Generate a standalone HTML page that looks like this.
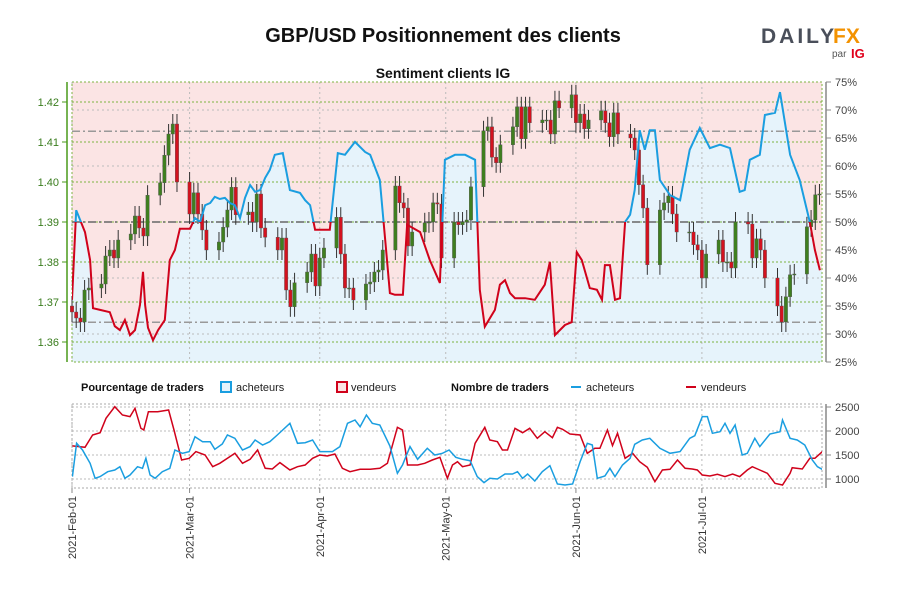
<!DOCTYPE html>
<html><head><meta charset="utf-8"><style>
body{margin:0;background:#fff;font-family:"Liberation Sans",sans-serif;}
svg text{font-family:"Liberation Sans",sans-serif;}
</style></head><body>
<svg id="c" width="900" height="600" xmlns="http://www.w3.org/2000/svg">
<text x="443" y="42" text-anchor="middle" font-size="20" font-weight="bold" fill="#111">GBP/USD Positionnement des clients</text>
<g>
<text x="761" y="43" font-size="21" font-weight="bold" fill="#4a4f5a" letter-spacing="3">DAILY</text>
<text x="833" y="43" font-size="21" font-weight="bold" fill="#f39200">FX</text>
<text x="832" y="57" font-size="10" fill="#555">par</text>
<text x="851" y="58" font-size="13" font-weight="bold" fill="#e0001b">IG</text>
</g>
<text x="443" y="78" text-anchor="middle" font-size="14" font-weight="bold" fill="#111">Sentiment clients IG</text>
<g id="main"></g>
<g id="legend">
<text x="81" y="391" font-size="11" font-weight="bold" fill="#111">Pourcentage de traders</text>
<rect x="221" y="382" width="10" height="10" fill="#e6f3fb" stroke="#1a9ee0" stroke-width="2"/>
<text x="236" y="391" font-size="11" fill="#222">acheteurs</text>
<rect x="337" y="382" width="10" height="10" fill="#fbe3e3" stroke="#d0021b" stroke-width="2"/>
<text x="351" y="391" font-size="11" fill="#222">vendeurs</text>
<text x="451" y="391" font-size="11" font-weight="bold" fill="#111">Nombre de traders</text>
<line x1="571" y1="387" x2="581" y2="387" stroke="#1a9ee0" stroke-width="2"/>
<text x="586" y="391" font-size="11" fill="#222">acheteurs</text>
<line x1="686" y1="387" x2="696" y2="387" stroke="#d0021b" stroke-width="2"/>
<text x="701" y="391" font-size="11" fill="#222">vendeurs</text>
</g>
<g id="bottom"></g>
</svg>
<script>
// ---------- data ----------
const priceTicks=[1.36,1.37,1.38,1.39,1.40,1.41,1.42];
const pctTicks=[25,30,35,40,45,50,55,60,65,70,75];
const countTicks=[1000,1500,2000,2500];
const monthLabels=["2021-Feb-01","2021-Mar-01","2021-Apr-01","2021-May-01","2021-Jun-01","2021-Jul-01"];
const monthDays=[0,28,59,89,120,150];
const refPcts=[66.2,50,32.1];
// daily closes (weekdays, starting Mon 2021-02-01)
const closes=[1.3675,1.366,1.365,1.373,1.3735, 1.3745,1.3815,1.383,1.381,1.3855, 1.387,1.3915,1.3885,1.3865,1.3967,
1.3998,1.4067,1.412,1.4145,1.400, 1.392,1.3973,1.392,1.388,1.383, 1.385,1.3887,1.393,1.3987,1.3918,
1.3925,1.39,1.397,1.3885,1.3862, 1.383,1.386,1.373,1.3688,1.3748, 1.3775,1.382,1.374,1.381,1.3835,
1.3912,1.382,1.3735,1.3735,1.3705, 1.3745,1.375,1.3775,1.378,1.383, 1.399,1.3948,1.3935,1.384,1.3875,
1.3898,1.39,1.3948,1.3945,1.381, 1.39,1.3893,1.39,1.3905,1.3988, 1.4128,1.4138,1.4062,1.4048,1.4093,
1.4138,1.4188,1.4108,1.4188,1.4148, 1.4155,1.4155,1.412,1.4203,1.4185, 1.4218,1.4148,1.417,1.4133,1.4155,
1.4178,1.4148,1.4113,1.4173,1.412, 1.411,1.408,1.3993,1.3935,1.3793, 1.393,1.3948,1.3965,1.392,1.3875,
1.3875,1.3843,1.383,1.376,1.382, 1.3855,1.38,1.38,1.3785,1.39, 1.3895,1.381,1.3858,1.383,1.376,
1.369,1.365,1.3713,1.3768,1.377, 1.3888,1.3905,1.3968,1.397];
const firstOpen=1.369;
// buyer percentage series
const pctDays=[0,1,3.1,4.3,5,6.7,9,10.2,11.4,12.6,13.8,15,16.2,16.9,17.4,18.1,19.3,20.5,22.1,23.3,24.5,25.7,28.1,29.3,30.5,31.7,32.9,34,35.2,36.4,37.6,38.8,40,41.2,42.4,43.6,44.8,46,47.1,48.3,50.2,51.9,54.3,55.5,56.7,57.9,59,61.4,63.3,65,67.4,69.8,71,73.3,74.8,75.7,76.9,78.8,79.8,82.9,85.2,87.6,88.8,91.2,93.6,96,97.1,98.3,100.7,101.9,103.1,104.3,105.5,107.9,110.2,112.6,113.8,115,117.4,119,120.2,121.4,123.3,125,126.2,126.9,128.1,129.3,130.5,131.7,132.9,134,135.2,136.4,137.6,138.8,140,142.4,144.8,147.1,149.5,151.9,154.3,156.7,159,160.2,161.4,163.8,165,167.4,168.6,171,173.3,175.7,176.9,178.1];
const pctVals=[36.1,52.1,48.2,43.2,34.6,34.3,33.9,31.4,30.7,32.5,29.8,30.7,35.2,41.1,35.2,31.1,28.9,30.7,32.5,43.2,45,48.8,48.8,50.7,50,53,53.4,54.5,54.1,54.3,53.4,53,50.7,54.3,56.6,55.4,55.7,57.9,59.3,62,62.3,55.7,55.2,53.9,53,48.6,48.6,48.6,62.3,62,64.3,62.5,62,57.5,45,37.3,37,37,49.5,48.2,43.2,39.1,61.1,62,62,61.1,37.9,31.3,34.3,38.8,39.6,37.3,36.4,36.4,36.1,38.8,42.9,29.8,31.6,32.1,44.6,43.2,38.2,37.9,36.1,42.3,42.3,36.1,36.4,50,51.3,55.7,66.4,62.9,66.4,66.4,57.5,54.8,53.9,62.9,66.8,63.2,63.8,63.2,55.4,55.7,61.1,62,69.1,69.5,73.2,62,57.5,50,45,41.4];
// trader counts
const sellDays=[0.1,3.1,4.9,6.7,8.1,10.2,12,13.8,15,16.4,17.1,18.2,20.4,23,24.3,26.1,27.9,29.5,31.7,33.5,35.2,37.6,38.8,40.6,42.4,44.2,46,47.7,49.5,51.9,53.7,55.5,57.3,59,60.8,62.6,64.4,66.2,68.6,71,73.3,75.1,77.5,78.7,79.9,82.3,84,85.8,87.6,89.4,90.6,91.8,93,94.8,96,98.3,99.5,101.3,102.5,103.7,105.5,107.3,109,110.8,112.6,114.4,115.6,116.8,118.6,121,122.7,124.5,125.7,127.5,128.7,129.9,131.7,133.5,135.2,137,138.8,140.6,142.4,144.2,146,147.7,148.9,150.1,151.9,153.7,155.5,157.3,159,160.8,162,163.8,165.6,167.4,169.2,171,171.5,173.9,175.7,176.9,178.7];
const sellVals=[1690,1660,1917,1965,2264,2507,2334,2299,2472,2056,2021,2403,2403,2438,2021,1396,1431,1570,1500,1257,1327,1466,1535,1327,1410,1604,1222,1209,1341,1188,1257,1292,1431,1500,1479,1521,1222,1153,1202,1202,1222,1327,2077,2021,1292,1292,1327,1396,1452,1014,1292,1361,1257,1292,1743,2077,1813,1778,1604,1604,2056,1965,2056,1847,1986,1861,2077,2035,1938,1917,1535,1639,1639,2021,1695,1952,1431,1535,1361,1243,945,1188,1202,1396,1222,1209,1188,1084,1063,1098,1049,1105,1049,1188,1257,1188,1118,910,875,1118,1236,1209,1431,1431,1570];
const buyDays=[0.1,1.1,2.5,4.3,5.5,6.7,8.5,10.2,11.4,12.6,13.8,15.6,16.8,17.6,18.6,19.8,21.5,23.3,24.5,26.3,27.9,29.3,31.1,32.9,34,35.8,37,38.8,40.6,42.4,43.6,45.4,47.1,48.9,51.9,53.7,55.5,57.3,59,60.8,62,63.8,65.6,67.4,68.6,70.1,71.5,73.3,75.7,77.5,78.7,80.5,82.3,84.6,86.4,88.2,89.8,91.4,93,94.8,96.5,98.1,99.5,101.3,103.1,104.9,106.1,107.3,108.5,110.2,112,113.8,115.6,117.4,119.2,121,122.7,123.9,125.1,126.9,128.1,129.3,131.1,132.9,134,135.8,137.6,140,142.4,144.8,147.1,148.3,150.1,151.3,152.5,154.3,155.5,156.7,157.9,159.6,160.8,162.6,163.8,166.2,168.6,169.2,171,172.7,174.5,176.3,177.5,178.9];
const buyVals=[1049,1743,1604,1327,1014,1049,1153,1188,1257,1014,1084,1257,1222,1431,1084,1014,1153,1222,1604,1535,1570,1882,1778,1778,1618,1729,1917,1847,1604,1674,1813,1709,1778,1917,2160,1743,1757,1813,1570,1570,1570,1674,2160,2229,2090,2333,2160,2125,1688,1118,1292,1674,1410,1639,1500,1535,1604,1452,1410,1382,1049,924,1014,1000,1105,1105,1153,1014,1105,959,1153,1278,896,875,896,1361,1743,1709,1014,1063,1222,1049,1292,1431,1722,1813,1847,1639,1535,1570,1847,1903,2299,2299,1952,1986,2160,1952,2125,1500,1535,1847,1674,1938,1986,2229,1847,1813,1709,1396,1257,1188];

// ---------- scales ----------
const X0=72,X1=822,PY0=82,PY1=362,BY0=404,BY1=488;
const DMAX=178.6;
const xs=d=>X0+d*(X1-X0)/DMAX;
const yp=p=>102+(1.42-p)*4000;
const ypct=v=>82+(75-v)*5.6;
const yc=v=>407+(2500-v)*0.048;
const NS="http://www.w3.org/2000/svg";
function mk(parent,tag,attrs){const e=document.createElementNS(NS,tag);for(const k in attrs)e.setAttribute(k,attrs[k]);parent.appendChild(e);return e;}
const main=document.getElementById('main'),bot=document.getElementById('bottom');
const defs=mk(main,'defs',{});
const cp=mk(defs,'clipPath',{id:'plotclip'});mk(cp,'rect',{x:X0,y:PY0,width:X1-X0,height:PY1-PY0});
const cpTop=mk(defs,'clipPath',{id:'above50'});mk(cpTop,'rect',{x:X0,y:PY0,width:X1-X0,height:ypct(50)-PY0});
const cpBot=mk(defs,'clipPath',{id:'below50'});mk(cpBot,'rect',{x:X0,y:ypct(50),width:X1-X0,height:PY1-ypct(50)});
const cpB=mk(defs,'clipPath',{id:'botclip'});mk(cpB,'rect',{x:X0,y:BY0,width:X1-X0,height:BY1-BY0});

// background areas
const bgPink=mk(main,'rect',{x:X0,y:PY0,width:X1-X0,height:PY1-PY0,fill:'#fbe4e4'});


let pts=pctDays.map((d,i)=>xs(d).toFixed(1)+','+ypct(pctVals[i]).toFixed(1));
const area=mk(main,'polygon',{points:xs(0)+','+PY1+' '+pts.join(' ')+' '+X1+','+ypct(pctVals[pctVals.length-1]).toFixed(1)+' '+X1+','+PY1,fill:'#e6f3fb','clip-path':'url(#plotclip)'});



// grid
for(const m of monthDays){const l=mk(main,'line',{x1:xs(m),x2:xs(m),y1:PY0,y2:PY1,stroke:'#bbb','stroke-dasharray':'2,3'});

}
for(const p of [30,40,60,70]){const l=mk(main,'line',{x1:X0,x2:X1,y1:ypct(p),y2:ypct(p),stroke:'#bbb','stroke-dasharray':'2,3'});

}
for(const p of priceTicks){const l=mk(main,'line',{x1:X0,x2:X1,y1:yp(p),y2:yp(p),stroke:'#7cb342','stroke-dasharray':'2,2'});

}
refPcts.forEach((p,i)=>{const l=mk(main,'line',{x1:X0,x2:X1,y1:ypct(p),y2:ypct(p),stroke:i==1?'#666':'#999','stroke-width':1.5,'stroke-dasharray':'8,3,2,3'});

});
const brd=mk(main,'rect',{x:X0,y:PY0,width:X1-X0,height:PY1-PY0,fill:'none',stroke:'#7cb342','stroke-dasharray':'2,2'});



// candles
let prev=firstOpen;
closes.forEach((c,i)=>{
  const wk=Math.floor(i/5),wd=i%5,day=wk*7+wd;
  const o=prev;prev=c;
  const up=c>=o,x=xs(day);
  const hi=Math.max(o,c)+0.0025,lo=Math.min(o,c)-0.0025;
  const w=mk(main,'line',{x1:x,x2:x,y1:yp(hi),y2:yp(lo),stroke:'#333','stroke-width':1});
  
  
  const b=mk(main,'rect',{x:x-1.7,y:yp(Math.max(o,c)),width:3.4,height:Math.max(1,Math.abs(yp(o)-yp(c))),fill:up?'#3f7f1f':'#d3121f',stroke:'#555','stroke-width':0.4});
  
  
});

// pct line (blue above 50, red below)
const lb=mk(main,'polyline',{points:pts.join(' '),fill:'none',stroke:'#1a9ee0','stroke-width':2,'clip-path':'url(#above50)'});


const lr=mk(main,'polyline',{points:pts.join(' '),fill:'none',stroke:'#d0021b','stroke-width':2,'clip-path':'url(#below50)'});



// axes
const la=mk(main,'line',{x1:67,x2:67,y1:PY0,y2:PY1,stroke:'#4a9a1a','stroke-width':1.5});


for(const p of priceTicks){mk(main,'line',{x1:62,x2:67,y1:yp(p),y2:yp(p),stroke:'#4a9a1a'});
const t=mk(main,'text',{x:59,y:yp(p)+4,'text-anchor':'end','font-size':11,fill:'#3a7d1e'});t.textContent=p.toFixed(2);

}
const ra=mk(main,'line',{x1:826,x2:826,y1:PY0,y2:PY1,stroke:'#888','stroke-width':1.5});


for(const p of pctTicks){mk(main,'line',{x1:826,x2:831,y1:ypct(p),y2:ypct(p),stroke:'#888'});
const t=mk(main,'text',{x:835,y:ypct(p)+4,'font-size':11,fill:'#444'});t.textContent=p+'%';

}

// bottom chart
for(const m of monthDays){const l=mk(bot,'line',{x1:xs(m),x2:xs(m),y1:BY0,y2:BY1,stroke:'#bbb','stroke-dasharray':'2,3'});

}
for(const v of countTicks){const l=mk(bot,'line',{x1:X0,x2:X1,y1:yc(v),y2:yc(v),stroke:'#bbb','stroke-dasharray':'2,2'});


mk(bot,'line',{x1:826,x2:831,y1:yc(v),y2:yc(v),stroke:'#888'});
const t=mk(bot,'text',{x:835,y:yc(v)+4,'font-size':11,fill:'#444'});t.textContent=v;

}
const bb=mk(bot,'rect',{x:X0,y:BY0,width:X1-X0,height:BY1-BY0,fill:'none',stroke:'#aaa','stroke-dasharray':'2,2'});


const ba=mk(bot,'line',{x1:826,x2:826,y1:BY0,y2:BY1,stroke:'#888','stroke-width':1.5});


const sl=mk(bot,'polyline',{points:sellDays.map((d,i)=>xs(d).toFixed(1)+','+yc(sellVals[i]).toFixed(1)).join(' '),fill:'none',stroke:'#d0021b','stroke-width':1.5,'clip-path':'url(#botclip)'});


const bl=mk(bot,'polyline',{points:buyDays.map((d,i)=>xs(d).toFixed(1)+','+yc(buyVals[i]).toFixed(1)).join(' '),fill:'none',stroke:'#1a9ee0','stroke-width':1.5,'clip-path':'url(#botclip)'});


// x labels
monthDays.forEach((m,i)=>{const x=xs(m);
mk(bot,'line',{x1:x,x2:x,y1:BY1,y2:BY1+5,stroke:'#888'});
const t=mk(bot,'text',{x:0,y:0,'font-size':11,fill:'#333','text-anchor':'end',transform:`translate(${x+4},${BY1+8}) rotate(-90)`});t.textContent=monthLabels[i];

});
</script>
</body></html>
